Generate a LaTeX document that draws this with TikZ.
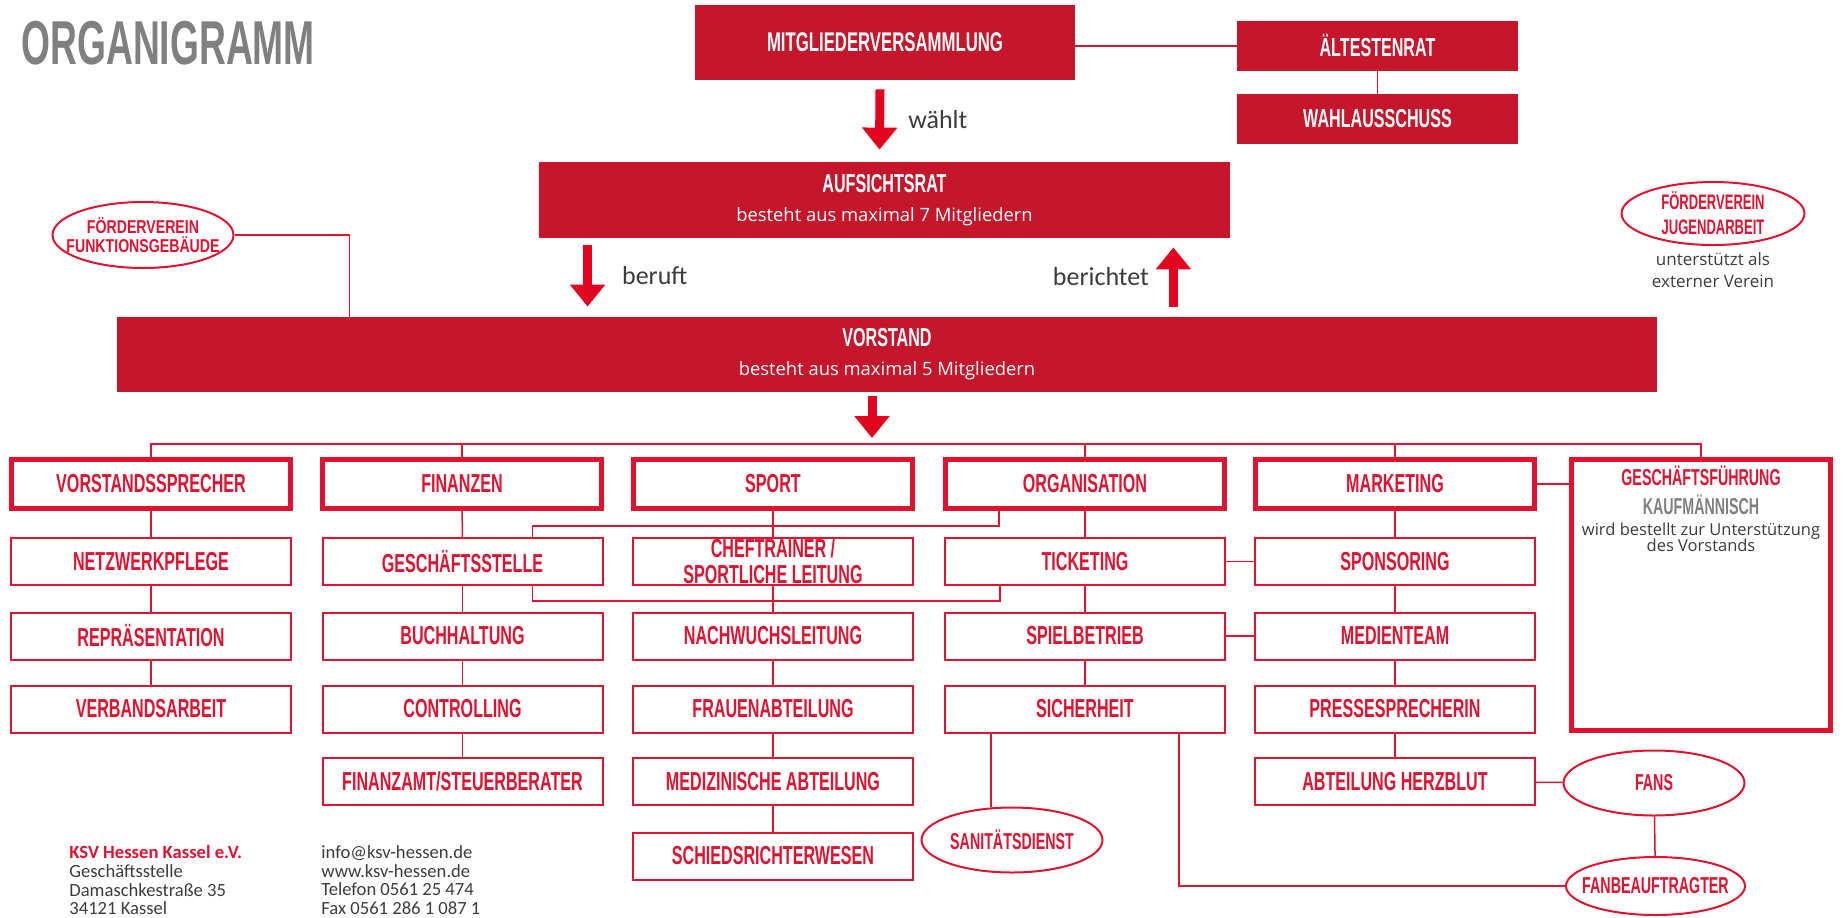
\documentclass[tikz,border=0pt]{standalone}
\usepackage{fontspec}
\usetikzlibrary{positioning,shapes.geometric,arrows.meta}

\setmainfont{Open Sans}
\newfontfamily\bebas[FakeStretch=0.62]{Liberation Sans}
\newfontfamily\bebaswide[FakeStretch=0.76]{Liberation Sans}
\newfontfamily\bebastitle[FakeStretch=0.6]{Liberation Sans}
\newfontfamily\calibri{Carlito}

\definecolor{ksvfill}{RGB}{197,22,43}
\definecolor{ksvred}{RGB}{224,18,48}
\definecolor{ksvarrow}{RGB}{226,4,30}
\definecolor{ksvgray}{RGB}{128,128,128}
\definecolor{ksvtext}{RGB}{60,60,60}

\lineskiplimit=-50pt

\tikzset{
  board/.style={fill=ksvfill, draw=none, text=white, inner sep=0pt, align=center,
    font=\bebas\bfseries\fontsize{13}{14.5}\selectfont},
  head/.style={draw=ksvred, line width=2.5pt, fill=white, text=ksvred, inner sep=0pt,
    minimum width=139.5pt, minimum height=24.5pt, font=\bebas\bfseries\fontsize{13}{13}\selectfont},
  unit/.style={draw=ksvred, line width=1pt, fill=white, text=ksvred, inner sep=0pt, align=center,
    minimum width=140pt, minimum height=23.5pt, font=\bebas\bfseries\fontsize{13}{13}\selectfont},
  club/.style={ellipse, draw=ksvred, line width=1pt, fill=white, text=ksvred, align=center,
    inner xsep=-20pt, inner ysep=0pt, minimum width=90.5pt, minimum height=32.5pt,
    font=\bebas\bfseries\fontsize{11.5}{10}\selectfont},
  link/.style={draw=ksvred, line width=0.75pt},
  push/.style={draw=ksvarrow, line width=4.5pt, -{Triangle[width=17pt,length=11pt]}},
  say/.style={inner sep=0pt, text=ksvtext, font=\calibri\fontsize{13}{13}\selectfont},
  note/.style={inner sep=0pt, text=ksvtext, align=center, font=\fontsize{8.5}{11}\selectfont}
}

\begin{document}
\begin{tikzpicture}[x=0.5pt,y=-0.5pt]
\useasboundingbox (0,0) rectangle (1843,917);

\node[anchor=base west, inner sep=0pt, text=ksvgray, font=\bebastitle\bfseries\fontsize{31}{31}\selectfont] (title) at (21,64) {ORGANIGRAMM};

% gremien
\node[board, minimum width=190pt, minimum height=37.5pt, font=\bebas\bfseries\fontsize{13.5}{14}\selectfont] (mv) at (885,42.5) {MITGLIEDERVERSAMMLUNG};
\node[board, minimum width=140.5pt, minimum height=25pt] (alt) at (1377.5,46) {ÄLTESTENRAT};
\node[board, minimum width=140.5pt, minimum height=25pt] (wahl) at (1377.5,119) {WAHLAUSSCHUSS};
\node[board, minimum width=345.5pt, minimum height=38pt] (ar) at (884.5,200) {AUFSICHTSRAT\\{\fontspec{Open Sans}\mdseries\fontsize{9.2}{14.5}\selectfont besteht aus maximal 7 Mitgliedern}};
\node[board, minimum width=770pt, minimum height=37.5pt] (vs) at (887,354.5) {VORSTAND\\{\fontspec{Open Sans}\mdseries\fontsize{9.2}{14.5}\selectfont besteht aus maximal 5 Mitgliedern}};

\node[club, minimum height=33pt, font=\bebaswide\bfseries\fontsize{9.3}{9.5}\selectfont] (ffg) at (143,235) {FÖRDERVEREIN\\FUNKTIONSGEBÄUDE};
\node[club, minimum width=91.5pt, minimum height=31.5pt, font=\bebas\bfseries\fontsize{10.5}{12.5}\selectfont] (fju) at (1713,213.5) {FÖRDERVEREIN\\JUGENDARBEIT};
\node[note, below=3pt of fju] (extern) {unterstützt als\\externer Verein};

\draw[link] (alt.west) -- (alt.west -| mv.east);
\draw[link] (alt) -- (wahl);
\draw[link] (ffg.east) -| ([xshift=116.5pt]vs.north west);

\draw[push] ([xshift=-2.5pt,yshift=-4.5pt]mv.south) -- node[right=12pt, say] {wählt} ([xshift=-2.5pt,yshift=6pt]ar.north);
\draw[push] ([xshift=24.5pt,yshift=-3.5pt]ar.south west) -- node[right=15pt, say] {beruft} ([xshift=24.5pt,yshift=5pt]ar.south west |- vs.north);
\draw[push] ([xshift=-28.5pt,yshift=5pt]ar.south east |- vs.north) -- node[left=10pt, say] {berichtet} ([xshift=-28.5pt,yshift=-4.5pt]ar.south east);

% ressorts
\coordinate (bus) at (0,444);
\node[head] (vsp) at (151,484) {VORSTANDSSPRECHER};
\node[head] (fin) at (462,484) {FINANZEN};
\node[head] (sport) at (773,484) {SPORT};
\node[head] (org) at (1085,484) {ORGANISATION};
\node[head] (mkt) at (1395,484) {MARKETING};
\node[head, minimum width=129.5pt, minimum height=135.5pt] (gf) at (1701,595) {};
\node[note, anchor=north, font=\fontsize{8.25}{8}\selectfont] (gftext) at (1701,465)
  {{\bebas\bfseries\color{ksvred}\fontsize{11.5}{8}\selectfont GESCHÄFTSFÜHRUNG}\\[6.5pt]
   {\bebas\bfseries\color{ksvgray}\fontsize{11.5}{8}\selectfont KAUFMÄNNISCH}\\[2.5pt]
   wird bestellt zur Unterstützung\\des Vorstands};

\draw[push] ([xshift=-7.5pt,yshift=-2pt]vs.south) -- ([xshift=-7.5pt,yshift=3pt]vs.south |- bus);

\node[unit] (netz) at (151,561.5) {NETZWERKPFLEGE};
\node[unit] (rep) at (151,636) {REPRÄSENTATION};
\node[unit] (verb) at (151,709) {VERBANDSARBEIT};

\node[unit] (gst) at (462.5,561.5) {GESCHÄFTSSTELLE};
\node[unit] (buch) at (462.5,636) {BUCHHALTUNG};
\node[unit] (contr) at (462.5,709) {CONTROLLING};
\node[unit] (fiamt) at (462.5,781.5) {FINANZAMT/STEUERBERATER};

\node[unit] (chef) at (773,561.5) {CHEFTRAINER /\\SPORTLICHE LEITUNG};
\node[unit] (nach) at (773,636) {NACHWUCHSLEITUNG};
\node[unit] (frau) at (773,709) {FRAUENABTEILUNG};
\node[unit] (med) at (773,781.5) {MEDIZINISCHE ABTEILUNG};
\node[unit] (schied) at (773,856) {SCHIEDSRICHTERWESEN};

\node[unit] (tick) at (1085,561.5) {TICKETING};
\node[unit] (spiel) at (1085,636) {SPIELBETRIEB};
\node[unit] (sich) at (1085,709) {SICHERHEIT};

\node[unit] (spon) at (1395,561.5) {SPONSORING};
\node[unit] (medien) at (1395,636) {MEDIENTEAM};
\node[unit] (presse) at (1395,709) {PRESSESPRECHERIN};
\node[unit] (herz) at (1395,781.5) {ABTEILUNG HERZBLUT};

\node[club] (sani) at (1012,840) {SANITÄTSDIENST};
\node[club] (fans) at (1654,783) {FANS};
\node[club, minimum width=89.5pt, minimum height=29pt] (fanb) at (1655.5,886) {FANBEAUFTRAGTER};

\draw[link] (vsp.north) -- (vsp.north |- bus) -- (gf.north |- bus) -- (gf.north);
\foreach \n in {fin,org,mkt}
  \draw[link] (\n.north) -- (\n.north |- bus);

\foreach \a/\b in {vsp/netz,netz/rep,rep/verb,fin/gst,gst/buch,buch/contr,contr/fiamt,
    sport/chef,chef/nach,nach/frau,frau/med,med/schied,org/tick,tick/spiel,spiel/sich,
    mkt/spon,spon/medien,medien/presse,presse/herz}
  \draw[link] (\a) -- (\b);

\draw[link] (tick) -- (spon);
\draw[link] (spiel) -- (medien);
\draw[link] (mkt.east) -- (mkt.east -| gf.west);
\draw[link] ([xshift=28pt]org.south west) -- ++(0,15) -| ([xshift=-35.5pt]gst.north east);
\draw[link] ([xshift=-35.5pt]gst.south east) -- ++(0,15) -| ([xshift=28pt]tick.south west);
\draw[link] ([xshift=23.5pt]sich.south west) -- ([xshift=23.5pt]sich.south west |- sani.north);
\draw[link] ([xshift=-23.5pt]sich.south east) |- (fanb.west);
\draw[link] (herz) -- (fans);
\draw[link] (fans) -- (fanb);

% adresse
\node[anchor=north west, inner sep=0pt, align=left, text=ksvtext, font=\calibri\fontsize{9.3}{9.4}\selectfont] (addr) at (69,845)
  {\textbf{\color{ksvred}KSV Hessen Kassel e.V.}\\Geschäftsstelle\\Damaschkestraße 35\\34121 Kassel};
\node[anchor=north west, inner sep=0pt, align=left, text=ksvtext, font=\calibri\fontsize{9.3}{9.4}\selectfont] (contact) at (321,845)
  {info@ksv-hessen.de\\www.ksv-hessen.de\\Telefon 0561 25 474\\Fax 0561 286 1 087 1};

\end{tikzpicture}
\end{document}
